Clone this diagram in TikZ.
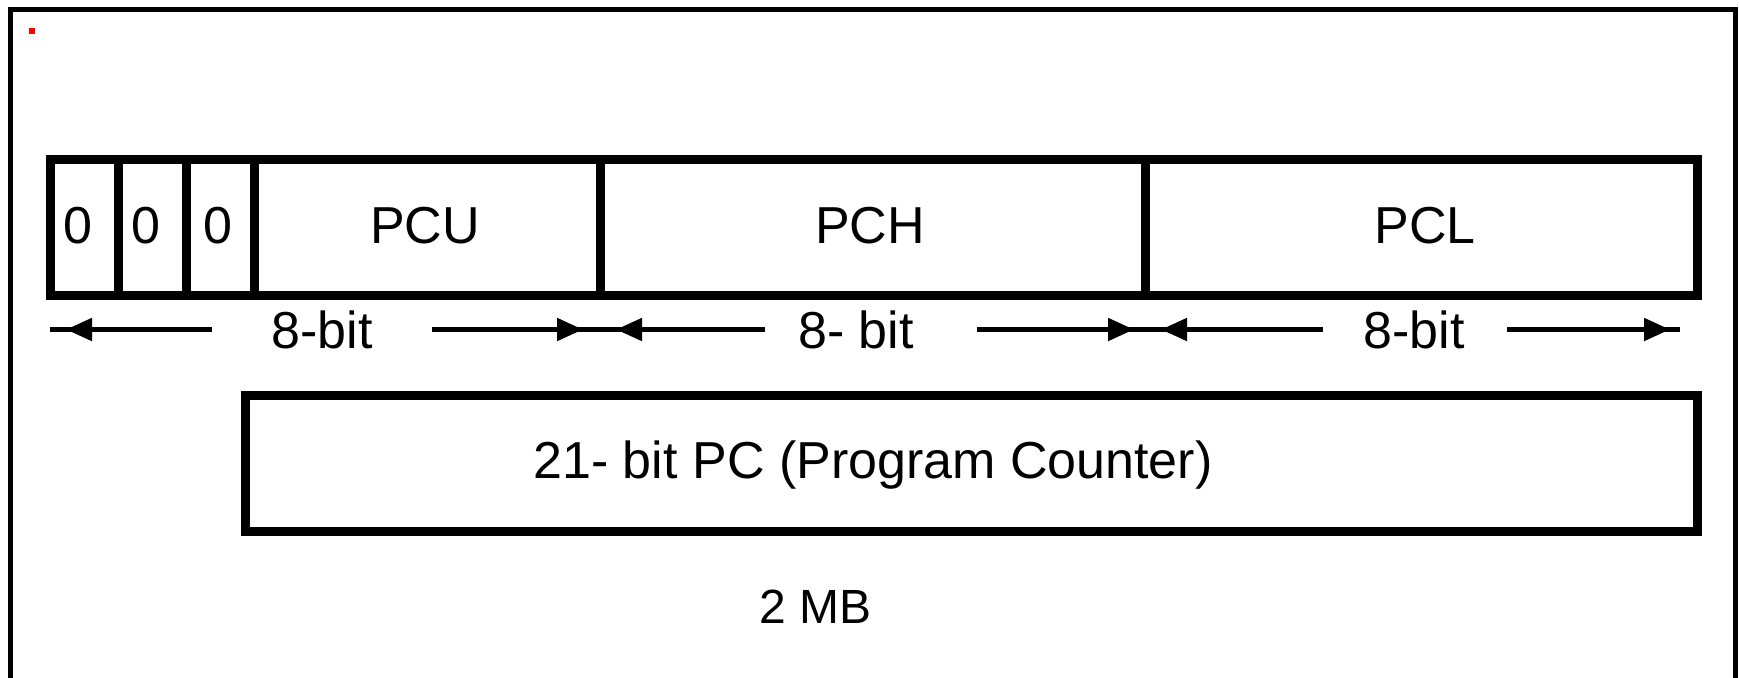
\documentclass[tikz,border=0pt]{standalone}
\usepackage{fontspec}
\setmainfont{Liberation Sans}
\usetikzlibrary{arrows.meta,decorations.markings}
\begin{document}
\begin{tikzpicture}[x=0.5pt,y=-0.5pt,
  cell/.style={draw,line width=4.5pt,inner sep=0pt,minimum height=68pt},
  lbl/.style={inner sep=0pt,anchor=base,font=\fontsize{26pt}{30pt}\selectfont},
  dimline/.style={line width=2.5pt},
  ltip/.style={postaction={decorate,decoration={markings,mark=at position #1 with {\arrowreversed{Triangle[length=13pt,width=11pt]}}}}},
  rtip/.style={postaction={decorate,decoration={markings,mark=at position #1 with {\arrow{Triangle[length=13pt,width=11pt]}}}}}
]
\useasboundingbox (0,0) rectangle (1739,677);
\clip (0,0) rectangle (1739,677);
% outer frame
\draw[line width=2.5pt] (10,9.5) rectangle (1735,720);
\fill[red] (29,28) rectangle (34.5,33.5);
% register cells
\node[cell,minimum width=34pt] (c1) at (84,227) {};
\node[cell,minimum width=34pt] (c2) at (152,227) {};
\node[cell,minimum width=34pt] (c3) at (220,227) {};
\node[cell,minimum width=173pt] (c4) at (427,227) {};
\node[cell,minimum width=272.5pt] (c5) at (872.5,227) {};
\node[cell,minimum width=276pt] (c6) at (1421,227) {};
\node[lbl] (t1) at (78,243.5) {0};
\node[lbl] (t2) at (146,243.5) {0};
\node[lbl] (t3) at (218,243.5) {0};
\node[lbl] (t4) at (425,243.5) {PCU};
\node[lbl] (t5) at (870,243.5) {PCH};
\node[lbl] (t6) at (1425,243.5) {PCL};
% dimension lines
\coordinate (d1a) at (50,329.5);
\coordinate (d1b) at (212,329.5);
\coordinate (d2a) at (432,329.5);
\coordinate (d2b) at (600,329.5);
\coordinate (d3b) at (765,329.5);
\coordinate (d4a) at (977,329.5);
\coordinate (d4b) at (1147,329.5);
\coordinate (d5b) at (1323,329.5);
\coordinate (d6a) at (1507,329.5);
\coordinate (d6b) at (1680,329.5);
\draw[dimline,ltip=8pt] (d1a) -- (d1b);
\draw[dimline,rtip=-8.5pt] (d2a) -- (d2b);
\draw[dimline,ltip=8pt] (d2b) -- (d3b);
\draw[dimline,rtip=-6.5pt] (d4a) -- (d4b);
\draw[dimline,ltip=7pt] (d4b) -- (d5b);
\draw[dimline,rtip=-5pt] (d6a) -- (d6b);
\node[lbl] (b1) at (322,348) {8-bit};
\node[lbl] (b2) at (856,348) {8- bit};
\node[lbl] (b3) at (1414,348) {8-bit};
% 21-bit PC box
\node[cell,minimum width=726pt] (pc) at (971,463) {};
\node[lbl] (pct) at (873,478) {21- bit PC (Program Counter)};
% size label
\node[inner sep=0pt,anchor=base,font=\fontsize{24pt}{28pt}\selectfont] (mb) at (816,623) {2 MB};
\end{tikzpicture}
\end{document}
